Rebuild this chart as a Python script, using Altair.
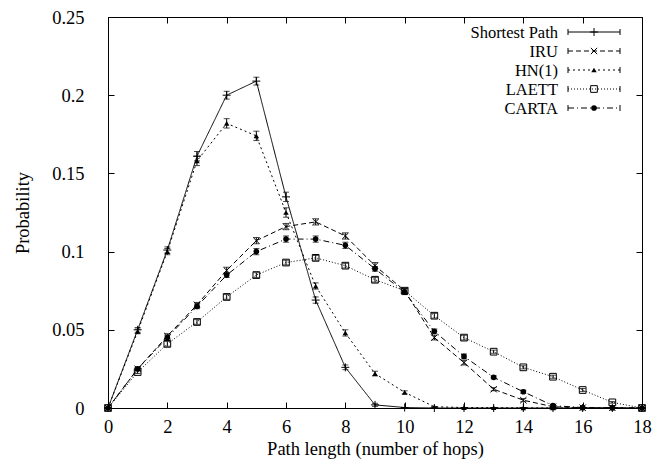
import altair as alt
import pandas as pd

hops = list(range(19))
series_names = ["Shortest Path", "IRU", "HN(1)", "LAETT", "CARTA"]

shortest = [0, 0.050, 0.101, 0.161, 0.200, 0.209, 0.135, 0.069, 0.026, 0.002, 0.0003, 0, 0, 0, 0, 0, 0, 0, 0]
iru = [0, 0.025, 0.046, 0.066, 0.088, 0.107, 0.116, 0.119, 0.110, 0.091, 0.075, 0.045, 0.029, 0.012, 0.005, 0.0008, 0.0002, 0.0001, 0]
hn = [0, 0.049, 0.100, 0.158, 0.182, 0.174, 0.125, 0.078, 0.048, 0.022, 0.010, 0.0008, 0.0003, 0.0002, 0.0001, 0, 0, 0, 0]
laett = [0, 0.023, 0.041, 0.055, 0.071, 0.085, 0.093, 0.096, 0.091, 0.082, 0.075, 0.059, 0.045, 0.036, 0.026, 0.020, 0.0115, 0.0036, 0]
carta = [0, 0.025, 0.045, 0.065, 0.085, 0.100, 0.108, 0.108, 0.104, 0.089, 0.074, 0.049, 0.033, 0.0196, 0.0104, 0.0015, 0.0003, 0.0001, 0]

shortest_err = [0, 0.0015, 0.002, 0.003, 0.0025, 0.0025, 0.003, 0.002, 0.0015, 0.001, 0, 0, 0, 0, 0, 0, 0, 0, 0]
iru_err = [0, 0.001, 0.0015, 0.0015, 0.002, 0.002, 0.002, 0.002, 0.002, 0.002, 0.0015, 0.0015, 0.0015, 0.001, 0.001, 0, 0, 0, 0]
hn_err = [0, 0.0015, 0.002, 0.003, 0.003, 0.003, 0.003, 0.002, 0.002, 0.0015, 0.001, 0, 0, 0, 0, 0, 0, 0, 0]
laett_err = [0, 0.001, 0.0015, 0.0015, 0.0015, 0.0015, 0.0015, 0.0015, 0.0015, 0.0015, 0.0015, 0.0015, 0.0015, 0.001, 0.001, 0.001, 0.001, 0.0005, 0]
carta_err = [0, 0.001, 0.0015, 0.0015, 0.0015, 0.002, 0.002, 0.002, 0.002, 0.0015, 0.0015, 0.0015, 0.0015, 0.001, 0.001, 0.0005, 0, 0, 0]

values = [shortest, iru, hn, laett, carta]
errors = [shortest_err, iru_err, hn_err, laett_err, carta_err]

rows = []
for name, vals, errs in zip(series_names, values, errors):
    for h, v, e in zip(hops, vals, errs):
        rows.append({"series": name, "hops": h, "p": v, "lo": max(v - e, 0), "hi": v + e})
df = pd.DataFrame(rows)

dashes = [[1, 0], [5, 3], [2, 3], [1, 2], [6, 3, 1, 3]]
plus = "M-1,0L1,0M0,-1L0,1"
xmark = "M-1,-1L1,1M-1,1L1,-1"
markers = [
    dict(shape=plus, filled=False, size=64),
    dict(shape=xmark, filled=False, size=40),
    dict(shape="triangle-up", filled=True, size=30),
    dict(shape="square", filled=False, size=45),
    dict(shape="circle", filled=True, size=32),
]

FONT = "Liberation Serif"
FS = 18.5
LFS = 16.5
W, H = 534, 391
xscale = alt.Scale(domain=[0, 18], nice=False)
yscale = alt.Scale(domain=[0, 0.25], nice=False)
xticks = list(range(0, 19, 2))
yticks = [0, 0.05, 0.1, 0.15, 0.2, 0.25]

base = alt.Chart(df)

# axis carriers
axes_main = base.mark_point(opacity=0).encode(
    x=alt.X("hops:Q", scale=xscale, axis=alt.Axis(
        values=xticks, orient="bottom", offset=-6, tickSize=6, labelPadding=9,
        labelFont=FONT, titleFont=FONT, labelFlush=False, labelOverlap=False,
        title="Path length (number of hops)", titlePadding=4)),
    y=alt.Y("p:Q", scale=yscale, axis=alt.Axis(
        values=yticks, orient="left", offset=-6, tickSize=6, labelPadding=24,
        labelFont=FONT, titleFont=FONT, labelFlush=False, labelOverlap=False,
        format="~g", title="Probability", titlePadding=19)),
)
axes_mirror = base.mark_point(opacity=0).encode(
    x=alt.X("hops:Q", scale=xscale, axis=alt.Axis(
        values=xticks, orient="top", offset=-6, tickSize=6, labels=False, title=None)),
    y=alt.Y("p:Q", scale=yscale, axis=alt.Axis(
        values=yticks, orient="right", offset=-6, tickSize=6, labels=False, title=None)),
)

layers = [axes_main, axes_mirror]
X = alt.X("hops:Q", scale=xscale, axis=None)
for i, name in enumerate(series_names):
    sub = base.transform_filter(alt.datum.series == name)
    layers.append(sub.mark_line(color="black", strokeWidth=1, strokeDash=dashes[i]).encode(
        x=X, y=alt.Y("p:Q", scale=yscale, axis=None)))
    layers.append(sub.mark_rule(color="black", strokeWidth=1).encode(
        x=X, y=alt.Y("lo:Q", scale=yscale, axis=None), y2="hi:Q"))
    layers.append(sub.mark_tick(color="black", thickness=1, size=6, orient="horizontal").encode(
        x=X, y=alt.Y("lo:Q", scale=yscale, axis=None)))
    layers.append(sub.mark_tick(color="black", thickness=1, size=6, orient="horizontal").encode(
        x=X, y=alt.Y("hi:Q", scale=yscale, axis=None)))
    m = markers[i]
    layers.append(sub.mark_point(shape=m["shape"], filled=m["filled"], size=m["size"],
                                 color="black", strokeWidth=1, opacity=1).encode(
        x=X, y=alt.Y("p:Q", scale=yscale, axis=None)))

# legend
leg_df = pd.DataFrame({"series": series_names})
leg_y = [15, 34, 53, 72, 91]
lx0, lx1, lxm, ltx = 460, 512, 486, 450
legbase = alt.Chart(leg_df)
for i, name in enumerate(series_names):
    sub = legbase.transform_filter(alt.datum.series == name)
    yy = leg_y[i]
    layers.append(sub.mark_text(align="right", baseline="middle", font=FONT, fontSize=LFS, color="black").encode(
        x=alt.value(ltx), y=alt.value(yy + 1), text="series:N"))
    layers.append(sub.mark_rule(color="black", strokeWidth=1, strokeDash=dashes[i]).encode(
        x=alt.value(lx0), x2=alt.value(lx1), y=alt.value(yy)))
    layers.append(sub.mark_rule(color="black", strokeWidth=1).encode(
        x=alt.value(lx0), y=alt.value(yy - 3), y2=alt.value(yy + 3)))
    layers.append(sub.mark_rule(color="black", strokeWidth=1).encode(
        x=alt.value(lx1), y=alt.value(yy - 3), y2=alt.value(yy + 3)))
    m = markers[i]
    layers.append(sub.mark_point(shape=m["shape"], filled=m["filled"], size=m["size"],
                                 color="black", strokeWidth=1, opacity=1).encode(
        x=alt.value(lxm), y=alt.value(yy)))

chart = alt.layer(*layers).resolve_axis(x="independent", y="independent").properties(
    width=W, height=H,
    autosize=alt.AutoSizeParams(type="none"),
    padding={"left": 100, "top": 9, "right": 15, "bottom": 58},
).configure(font=FONT).configure_view(stroke="black", strokeWidth=1).configure_axis(
    grid=False, domain=False, labelFont=FONT, labelFontSize=FS, labelColor="black",
    titleFont=FONT, titleFontSize=FS, titleFontWeight="normal", titleColor="black",
    tickColor="black", tickWidth=1,
).configure_text(font=FONT)

chart.save("out.html", embed_options={"renderer": "svg", "actions": False})
